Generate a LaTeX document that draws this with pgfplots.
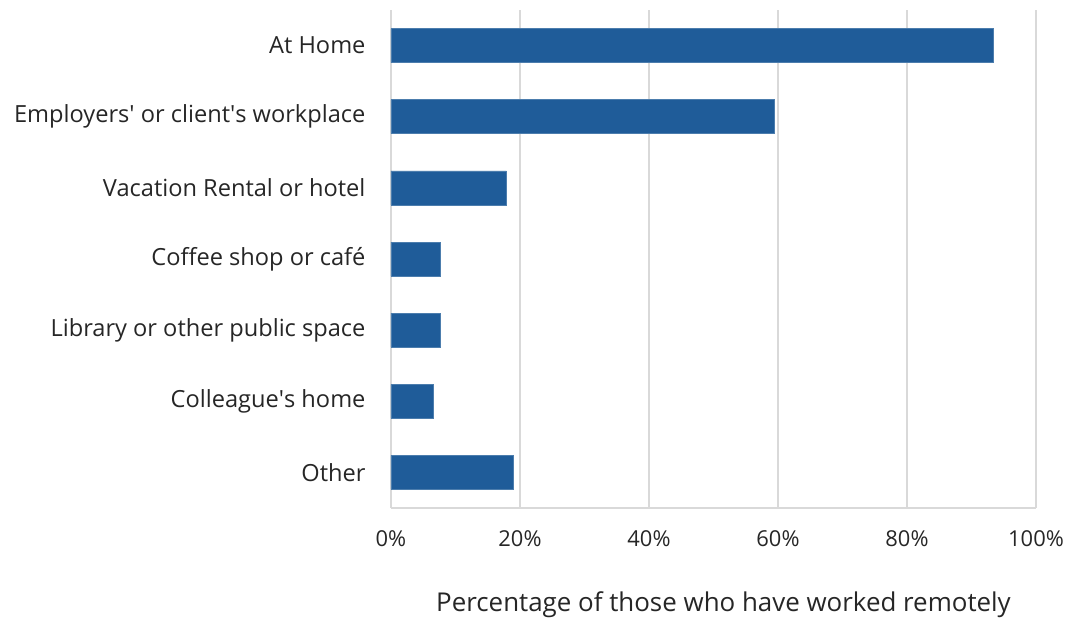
\documentclass[border=0pt]{standalone}
\usepackage{pgfplots}
\pgfplotsset{compat=1.18}
\usepackage{fontspec}
\setmainfont{Open Sans}
\definecolor{barblue}{RGB}{31,92,153}
\definecolor{gridgray}{RGB}{217,217,217}
% straight apostrophe, bypassing the tex-text mapping
\newcommand{\sq}{\XeTeXglyph\XeTeXcharglyph"27\relax}
\begin{document}
\begin{tikzpicture}
\begin{axis}[
    name=ax,
    scale only axis,
    width=645bp, height=498bp,
    xbar, bar width=34bp,
    xmin=0, xmax=100,
    ymin=-0.5, ymax=6.5,
    y dir=reverse,
    ytick={0,...,6},
    yticklabels={At Home, {Employers\sq{} or client\sq{}s workplace}, Vacation Rental or hotel, Coffee shop or café, Library or other public space, {Colleague\sq{}s home}, Other},
    xtick={0,20,...,100},
    xticklabels={0\%,20\%,40\%,60\%,80\%,100\%},
    /pgf/number format/assume math mode=true,
    axis x line*=bottom, axis y line*=left,
    axis line style={gridgray, line width=1.5bp, -},
    major tick length=0pt,
    xmajorgrids, grid style={gridgray, line width=1.5bp},
    ticklabel style={text=black!85},
    yticklabel style={font=\fontsize{23.7}{28}\selectfont, xshift=-22bp},
    xticklabel style={font=\fontsize{22}{26}\selectfont, yshift=-19bp},
    xlabel={Percentage of those who have worked remotely},
    xlabel style={font=\fontsize{26}{31}\selectfont, text=black!85,
        at={(axis description cs:0.5,0)}, anchor=center, xshift=10bp, yshift=-97bp},
    clip=false,
]
\addplot[fill=barblue, draw=barblue!80!white, line width=0.6pt] coordinates {
    (93.4,0) (59.5,1) (17.9,2) (7.6,3) (7.6,4) (6.5,5) (18.9,6)
};
\end{axis}
\pgfresetboundingbox
\path ([shift={(-391bp,-116bp)}]ax.south west) rectangle ([shift={(37bp,10bp)}]ax.north east);
\end{tikzpicture}
\end{document}
